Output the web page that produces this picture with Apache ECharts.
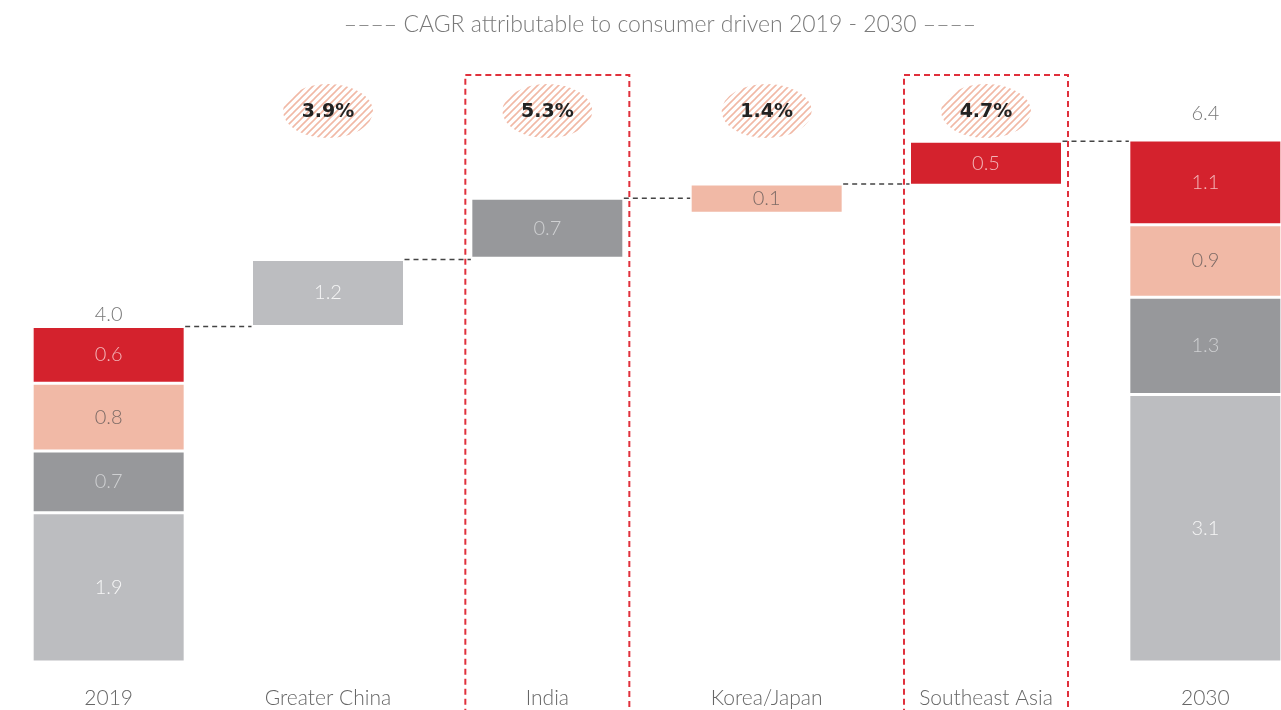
<!DOCTYPE html>
<html>
<head>
<meta charset="utf-8">
<title>CAGR attributable to consumer driven</title>
<script src="https://cdn.jsdelivr.net/npm/echarts@6/dist/echarts.min.js"></script>
<style>
	html, body { margin: 0; padding: 0; background: #fff; }
	#main { width: 1281px; height: 710px; }
</style>
</head>
<body>
<div id="main"></div>
<script>
	// categories along the x axis
	var categories = ['2019', 'Greater China', 'India', 'Korea/Japan', 'Southeast Asia', '2030'];

	// bar extents (same units as the y axis)
	var baseValues = [0, 4.0, 4.815, 5.35, 5.685, 0];
	var chinaValues = [1.78, 0.80, '-', '-', '-', 3.19];
	var indiaValues = [0.735, '-', 0.715, '-', '-', 1.16];
	var kjValues = [0.81, '-', '-', 0.35, '-', 0.865];
	var seaValues = [0.675, '-', '-', '-', 0.525, 1.01];

	// printed labels
	var chinaLabels = ['1.9', '1.2', '', '', '', '3.1'];
	var indiaLabels = ['0.7', '', '0.7', '', '', '1.3'];
	var kjLabels = ['0.8', '', '', '0.1', '', '0.9'];
	var seaLabels = ['0.6', '', '', '', '0.5', '1.1'];
	var totals = [[0, 4.145, '4.0'], [5, 6.535, '6.4']];

	// dashed connectors: [from category, level]
	var connectors = [[0, 4.0], [1, 4.80], [2, 5.53], [3, 5.70], [4, 6.21]];

	// CAGR badges
	var cagr = [[1, '3.9%'], [2, '5.3%'], [3, '1.4%'], [4, '4.7%']];
	var badgeLevel = 6.57;

	// highlighted regions: [category, top level]
	var boxes = [[2, 7], [4, 7]];

	var RED = '#d4222d', SALMON = '#f1b9a6', DGRAY = '#97989b', LGRAY = '#bcbdc0';
	var BAR_W = 153;
	var FONT = 'Lato, "Open Sans", sans-serif';

	/* diagonal hatch used for the badges */
	var hatch = document.createElement('canvas');
	hatch.width = 7; hatch.height = 7;
	var ctx = hatch.getContext('2d');
	ctx.strokeStyle = '#f1b9a6';
	ctx.lineWidth = 1.6;
	ctx.beginPath();
	ctx.moveTo(-1, 8); ctx.lineTo(8, -1);
	ctx.moveTo(-1, 1); ctx.lineTo(1, -1);
	ctx.moveTo(6, 8); ctx.lineTo(8, 6);
	ctx.stroke();

	function labelOf(arr, color) {
		return {
			show: true,
			position: 'inside',
			color: color,
			fontSize: 20,
			fontFamily: FONT,
			fontWeight: 300,
			formatter: function(p) { return arr[p.dataIndex]; }
		};
	}

	function stackSeries(name, data, color, labels, labelColor) {
		return {
			name: name,
			type: 'bar',
			stack: 'all',
			barWidth: BAR_W,
			data: data,
			itemStyle: { color: color, borderColor: '#fff', borderWidth: 1.5 },
			label: labelOf(labels, labelColor),
			emphasis: { disabled: true },
			z: 2
		};
	}

	var myChart = echarts.init(document.getElementById('main'));

	myChart.setOption({
		animation: false,
		title: {
			text: '–––– CAGR attributable to consumer driven 2019 - 2030 ––––',
			left: 655,
			top: 8,
			textAlign: 'center',
			textStyle: { color: '#7a7a7a', fontSize: 23, fontWeight: 300, fontFamily: FONT }
		},
		grid: { left: -1, right: -34, top: 75, bottom: 48, outerBoundsMode: 'none', containLabel: false },
		xAxis: {
			type: 'category',
			data: categories,
			axisLine: { show: false },
			axisTick: { show: false },
			axisLabel: { color: '#666', fontSize: 21, fontFamily: FONT, fontWeight: 300, margin: 26 }
		},
		yAxis: { type: 'value', min: 0, max: 7, show: false },
		series: [
			{
				name: 'base',
				type: 'bar',
				stack: 'all',
				barWidth: BAR_W,
				data: baseValues,
				itemStyle: { color: 'transparent' },
				emphasis: { disabled: true },
				silent: true
			},
			stackSeries('Greater China', chinaValues, LGRAY, chinaLabels, '#f6f6f6'),
			stackSeries('India', indiaValues, DGRAY, indiaLabels, '#cfd0d2'),
			stackSeries('Korea/Japan', kjValues, SALMON, kjLabels, '#7d6b66'),
			stackSeries('Southeast Asia', seaValues, RED, seaLabels, '#f3b5b8'),
			{
				// totals above the 2019 / 2030 stacks
				type: 'custom',
				data: totals,
				renderItem: function(params, api) {
					var p = api.coord([api.value(0), api.value(1)]);
					return {
						type: 'text',
						x: p[0], y: p[1],
						style: {
							text: totals[params.dataIndex][2],
							fill: '#777', fontSize: 20, fontFamily: FONT, fontWeight: 300,
							align: 'center', verticalAlign: 'middle'
						}
					};
				},
				z: 3
			},
			{
				// dashed connectors between bars
				type: 'custom',
				data: connectors,
				renderItem: function(params, api) {
					var a = api.coord([api.value(0), api.value(1)]);
					var b = api.coord([api.value(0) + 1, api.value(1)]);
					return {
						type: 'line',
						shape: { x1: a[0] + BAR_W / 2, y1: a[1], x2: b[0] - BAR_W / 2, y2: b[1] },
						style: { stroke: '#444', lineWidth: 1.5, lineDash: [5, 4] }
					};
				},
				z: 3
			},
			{
				// hatched CAGR badges
				type: 'custom',
				data: cagr,
				renderItem: function(params, api) {
					var c = api.coord([api.value(0), badgeLevel]);
					var rx = 45, ry = 27;
					var d = 'M' + (c[0] - rx) + ' ' + c[1] +
						' A' + rx + ' ' + ry + ' 0 1 0 ' + (c[0] + rx) + ' ' + c[1] +
						' A' + rx + ' ' + ry + ' 0 1 0 ' + (c[0] - rx) + ' ' + c[1] + ' Z';
					return {
						type: 'group',
						children: [{
							type: 'path',
							shape: { pathData: d },
							style: { fill: { image: hatch, repeat: 'repeat' }, stroke: null }
						}, {
							type: 'text',
							x: c[0], y: c[1] + 1,
							style: {
								text: cagr[params.dataIndex][1],
								fill: '#222', fontSize: 19, fontWeight: 'bold', fontFamily: '"DejaVu Sans", sans-serif',
								align: 'center', verticalAlign: 'middle'
							}
						}]
					};
				},
				z: 4
			},
			{
				// red dashed frames around India and Southeast Asia
				type: 'custom',
				data: boxes,
				renderItem: function(params, api) {
					var i = api.value(0);
					var top = api.coord([i, api.value(1)]);
					var bottom = api.coord([i, -1]);
					var w = 164;
					return {
						type: 'rect',
						shape: { x: top[0] - w / 2, y: top[1], width: w, height: bottom[1] - top[1] },
						style: { fill: 'none', stroke: '#e0303c', lineWidth: 2, lineDash: [6, 4] }
					};
				},
				z: 5
			}
		]
	});

	window.addEventListener('resize', function() {
		myChart.resize();
	});
</script>
</body>
</html>
